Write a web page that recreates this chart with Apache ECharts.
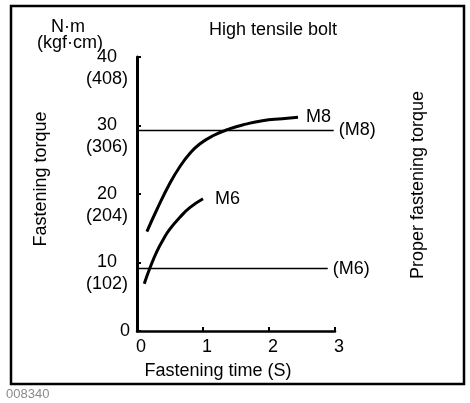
<!DOCTYPE html>
<html lang="en">
<head>
    <meta charset="UTF-8">
    <title>High tensile bolt</title>
    <script src="https://cdn.jsdelivr.net/npm/echarts@6/dist/echarts.min.js"></script>
    <style>
        html, body { margin: 0; padding: 0; background: #fff; }
        #container { width: 470px; height: 403px; }
    </style>
</head>
<body>
    <div id="container"></div>
    <script>
        // values (time in s, torque in N·m)
        var timeM8 = [0.15, 0.3, 0.5, 0.65, 0.8, 0.95, 1.15, 1.4, 1.65, 1.9, 2.2, 2.44];
        var torqueM8 = [14.5, 17.7, 21.6, 24.0, 25.9, 27.3, 28.5, 29.5, 30.2, 30.7, 31.0, 31.2];
        var timeM6 = [0.11, 0.2, 0.3, 0.4, 0.5, 0.65, 0.8, 1.0];
        var torqueM6 = [6.9, 9.3, 11.6, 13.4, 14.9, 16.6, 18.0, 19.3];

        // proper fastening torque: [value, line end time]
        var properM8 = [29.3, 2.98];
        var properM6 = [9.1, 2.89];

        var yTicks = [0, 10, 20, 30, 40];
        var yKgf = ['', '(102)', '(204)', '(306)', '(408)'];
        var xTicks = [0, 1, 2, 3];

        var font = 'Liberation Sans, Arial, sans-serif';
        var fs = 18;

        function pairs(xs, ys) {
            return xs.map(function (x, i) { return [x, ys[i]]; });
        }

        function properLine(p, label) {
            return {
                symbol: 'none',
                silent: true,
                lineStyle: { color: '#000', width: 1.3, type: 'solid' },
                label: {
                    show: true, position: 'end', distance: 5, formatter: label,
                    color: '#000', fontSize: fs, fontFamily: font
                },
                data: [[{ coord: [0, p[0]] }, { coord: [p[1], p[0]] }]]
            };
        }

        var myChart = echarts.init(document.getElementById('container'));
        var option = {
            animation: false,
            grid: { left: 137, right: 135, top: 57, bottom: 72 },
            xAxis: {
                type: 'value',
                min: 0, max: 3, interval: 1,
                name: 'Fastening time (S)',
                nameLocation: 'middle',
                nameGap: 31,
                nameTextStyle: { color: '#000', fontSize: fs, fontFamily: font, padding: [0, 36, 0, 0] },
                axisLine: { lineStyle: { color: '#000', width: 2.5 } },
                axisTick: { inside: true, length: 4, lineStyle: { color: '#000', width: 2 } },
                axisLabel: {
                    color: '#000', fontSize: fs, fontFamily: font, margin: 7,
                    padding: [0, 0, 0, 8],
                    formatter: function (v) { return xTicks.indexOf(v) >= 0 ? String(v) : ''; }
                },
                splitLine: { show: false }
            },
            yAxis: {
                type: 'value',
                min: 0, max: 40, interval: 10,
                name: 'Fastening torque',
                nameLocation: 'middle',
                nameGap: 87,
                nameTextStyle: { color: '#000', fontSize: fs, fontFamily: font, padding: [0, 0, 0, 30] },
                axisLine: { show: true, lineStyle: { color: '#000', width: 3 } },
                axisTick: { inside: true, length: 4, lineStyle: { color: '#000', width: 2 } },
                axisLabel: {
                    margin: 7,
                    formatter: function (v) {
                        var i = yTicks.indexOf(v);
                        if (v === 0) return '{z|0}';
                        return '{n|\u00a0}\n{n|' + v + '}\n{n|' + yKgf[i] + '}';
                    },
                    rich: {
                        n: { width: 46, align: 'center', lineHeight: 22, fontSize: fs, color: '#000', fontFamily: font },
                        z: { fontSize: fs, color: '#000', fontFamily: font }
                    }
                },
                splitLine: { show: false }
            },
            graphic: [
                {
                    type: 'rect', shape: { x: 11, y: 6, width: 453, height: 378 },
                    style: { fill: 'none', stroke: '#000', lineWidth: 2.5 }
                },
                {
                    type: 'text', x: 68, y: 27,
                    style: { text: 'N·m', font: fs + 'px ' + font, fill: '#000', align: 'center', verticalAlign: 'middle' }
                },
                {
                    type: 'text', x: 70, y: 43,
                    style: { text: '(kgf·cm)', font: fs + 'px ' + font, fill: '#000', align: 'center', verticalAlign: 'middle' }
                },
                {
                    type: 'text', x: 273, y: 30,
                    style: { text: 'High tensile bolt', font: fs + 'px ' + font, fill: '#000', align: 'center', verticalAlign: 'middle' }
                },
                {
                    type: 'text', x: 418, y: 185, rotation: Math.PI / 2,
                    style: { text: 'Proper fastening torque', font: fs + 'px ' + font, fill: '#000', align: 'center', verticalAlign: 'middle' }
                },
                {
                    type: 'text', x: 6, y: 394,
                    style: { text: '008340', font: '13px ' + font, fill: '#8a8a8a', align: 'left', verticalAlign: 'middle' }
                }
            ],
            series: [{
                name: 'M8',
                type: 'line',
                smooth: true,
                symbol: 'none',
                data: pairs(timeM8, torqueM8),
                lineStyle: { color: '#000', width: 3 },
                endLabel: { show: true, formatter: 'M8', distance: 8, color: '#000', fontSize: fs, fontFamily: font },
                markLine: properLine(properM8, '(M8)')
            }, {
                name: 'M6',
                type: 'line',
                smooth: true,
                symbol: 'none',
                data: pairs(timeM6, torqueM6),
                lineStyle: { color: '#000', width: 3 },
                endLabel: { show: true, formatter: 'M6', distance: 12, color: '#000', fontSize: fs, fontFamily: font },
                markLine: properLine(properM6, '(M6)')
            }]
        };

        myChart.setOption(option);
    </script>
</body>
</html>
